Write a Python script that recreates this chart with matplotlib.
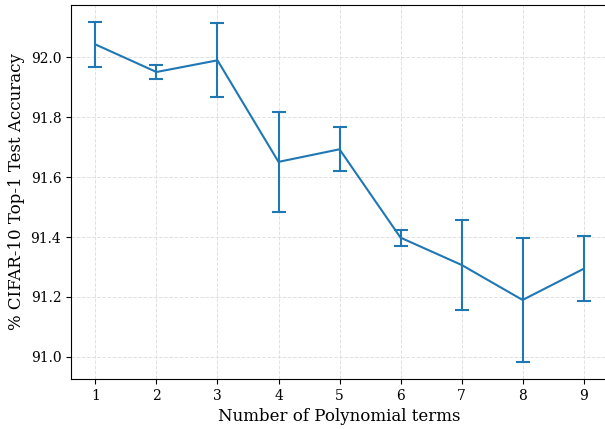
import matplotlib
matplotlib.use("Agg")
from matplotlib import pyplot as plt

plt.rcParams['font.family'] = 'DejaVu Serif'

terms = [1, 2, 3, 4, 5, 6, 7, 8, 9]
acc_mean = [92.043, 91.951, 91.990, 91.651, 91.693, 91.398, 91.307, 91.190, 91.294]
acc_err = [0.075, 0.025, 0.124, 0.166, 0.073, 0.027, 0.151, 0.207, 0.108]

fig = plt.figure(figsize=(6.05, 4.29), dpi=100)
ax = fig.add_axes([0.1174, 0.1166, 0.8876, 0.8718])
ax.errorbar(terms, acc_mean, yerr=acc_err, color='tab:blue', linewidth=1.5,
            elinewidth=1.5, capsize=5, capthick=1.5)
ax.set_xticks(terms)
ax.set_yticks([91.0, 91.2, 91.4, 91.6, 91.8, 92.0])
ax.grid(True, linestyle='--', color='#dddddd', linewidth=0.7, alpha=0.9)
ax.tick_params(labelsize=10)
ax.set_xlabel("Number of Polynomial terms", fontsize=12)
ax.set_ylabel("% CIFAR-10 Top-1 Test Accuracy", fontsize=12)
fig.savefig("out.png", dpi=100)
